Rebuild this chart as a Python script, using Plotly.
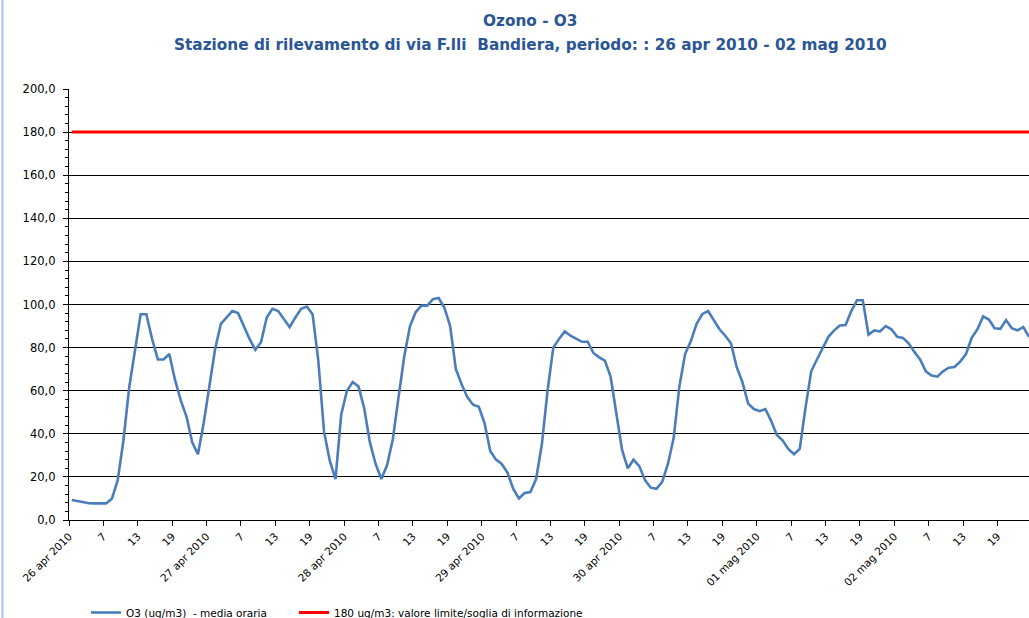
import plotly.graph_objects as go

# ---------------- data ----------------
days = ["26 apr 2010", "27 apr 2010", "28 apr 2010", "29 apr 2010",
        "30 apr 2010", "01 mag 2010", "02 mag 2010"]
hour_labels = ["7", "13", "19"]

hours = list(range(168))  # hourly index from 26 apr 2010 to 02 mag 2010

o3 = [
    9.3, 8.8, 8.5, 7.8, 7.7, 7.7, 7.7, 10.0, 18.5, 37.0, 61.5, 78.5,
    95.5, 95.5, 84.0, 74.5, 74.5, 77.0, 65.0, 55.5, 48.0, 36.0, 30.5, 45.0,
    62.0, 79.5, 91.0, 94.0, 97.0, 96.0, 90.0, 84.0, 79.0, 82.5, 94.0, 98.0,
    97.0, 93.0, 89.5, 94.0, 98.0, 99.0, 95.5, 74.0, 41.0, 27.5, 19.0, 49.0,
    60.0, 64.0, 62.0, 52.0, 36.0, 26.0, 19.0, 25.5, 37.5, 57.0, 76.0, 90.0,
    96.5, 99.5, 99.5, 102.5, 103.0, 98.5, 90.0, 70.0, 63.0, 57.0, 53.5, 52.5,
    45.0, 32.0, 28.0, 26.0, 22.0, 14.5, 10.0, 12.5, 13.0, 19.0, 35.0, 60.0,
    80.0, 84.0, 87.5, 85.5, 84.0, 82.7, 82.7, 77.5, 75.5, 74.0, 66.5, 49.5,
    32.5, 24.0, 28.0, 25.0, 18.5, 15.0, 14.5, 17.7, 26.0, 38.0, 62.0, 77.0,
    83.0, 91.0, 95.5, 97.0, 93.0, 88.5, 85.5, 82.0, 71.0, 64.0, 54.0, 51.5,
    50.5, 51.5, 46.0, 39.5, 37.0, 33.0, 30.5, 33.0, 52.0, 69.0, 74.5, 80.0,
    85.0, 88.0, 90.3, 90.5, 97.0, 102.0, 102.0, 86.0, 88.0, 87.5, 90.0, 88.5,
    85.0, 84.5, 82.0, 78.0, 74.5, 69.0, 67.0, 66.5, 69.0, 70.7, 71.0, 73.5,
    77.0, 84.5, 88.5, 94.5, 93.0, 89.0, 88.7, 92.8, 89.0, 88.0, 89.5, 85.0,
]
limit = [180.0] * len(hours)

tick_text = []
for d in days:
    tick_text += [d] + hour_labels
tick_hours = list(range(0, 168, 6))
tick_pos = [h - 0.5 for h in tick_hours]  # ticks on category boundaries

NB = "\u00a0"
name_o3 = "O3 (ug/m3)" + NB + " - media oraria"
name_lim = "180 ug/m3: valore limite/soglia di informazione"

# ---------------- figure ----------------
W, H = 1029, 618
ML, MT, MB, MR = 69, 89, 98, 0
PW, PH = W - ML - MR, H - MT - MB

def px_x(x):
    return (x - ML) / PW

def px_y(y):
    return (H - MB - y) / PH

fig = go.Figure()
fig.add_trace(go.Scatter(
    x=hours, y=o3, mode="lines", name=name_o3, legend="legend",
    line=dict(color="#4a7ebb", width=2.6),
))
fig.add_trace(go.Scatter(
    x=hours, y=limit, mode="lines", name=name_lim, legend="legend2",
    line=dict(color="#ff0000", width=3),
))

title_color = "#2a5696"
fig.add_annotation(text="<b>Ozono - O3</b>", xref="paper", yref="paper",
                   x=px_x(530), y=px_y(21), showarrow=False,
                   xanchor="center", yanchor="middle",
                   font=dict(family="DejaVu Sans", size=15.3, color=title_color))
fig.add_annotation(text="<b>Stazione di rilevamento di via F.lli" + NB + " Bandiera, periodo: : 26 apr 2010 - 02 mag 2010</b>",
                   xref="paper", yref="paper",
                   x=px_x(530), y=px_y(45), showarrow=False,
                   xanchor="center", yanchor="middle",
                   font=dict(family="DejaVu Sans", size=15.3, color=title_color))

# light blue frame edge on the left
fig.add_shape(type="line", xref="paper", yref="paper",
              x0=px_x(2.5), x1=px_x(2.5), y0=px_y(618), y1=px_y(0),
              line=dict(color="#a9c6ea", width=2))

legend_common = dict(
    orientation="h", xanchor="left", yanchor="top",
    font=dict(family="DejaVu Sans", size=10.5, color="#000000"),
    bgcolor="rgba(0,0,0,0)", borderwidth=0,
)

fig.update_layout(
    width=W, height=H,
    margin=dict(l=ML, r=MR, t=MT, b=MB, autoexpand=False),
    paper_bgcolor="white", plot_bgcolor="white",
    separators=",.",
    showlegend=True,
    legend=dict(x=px_x(86), y=px_y(598), **legend_common),
    legend2=dict(x=px_x(294), y=px_y(598), **legend_common),
    xaxis=dict(
        range=[-0.5, 167.0],
        tickmode="array", tickvals=tick_pos, ticktext=tick_text,
        tickangle=-45, ticks="outside", ticklen=5, tickcolor="#000000",
        tickfont=dict(family="DejaVu Sans", size=10.5, color="#000000"),
        showgrid=False, zeroline=False,
        showline=True, linecolor="#000000", linewidth=1.3,
        automargin=False,
    ),
    yaxis=dict(
        range=[0, 200], dtick=20, tick0=0, tickformat=".1f",
        ticks="outside", ticklen=5, tickcolor="#000000",
        ticklabelstandoff=5,
        tickfont=dict(family="DejaVu Sans", size=11.5, color="#000000"),
        showgrid=True, gridcolor="#000000", gridwidth=1.2,
        zeroline=False,
        showline=True, linecolor="#000000", linewidth=1.3,
        minor=dict(dtick=4, ticks="outside", ticklen=3, tickcolor="#000000", showgrid=False),
        automargin=False,
    ),
)

fig.write_html("out.html", config={"displayModeBar": False},
               post_script="document.body.style.margin='0px';")
